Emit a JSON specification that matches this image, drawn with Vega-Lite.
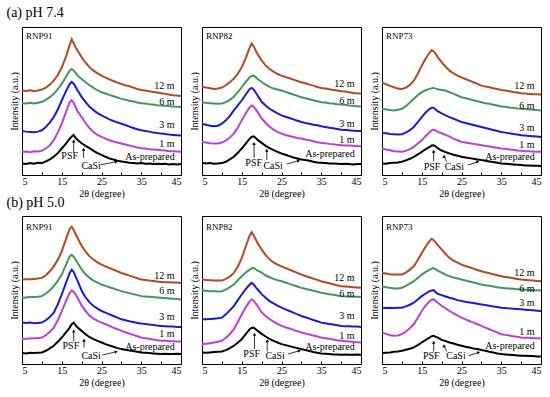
{
"$schema": "https://vega.github.io/schema/vega-lite/v6.json",
"padding": {"left": 5, "top": 5, "right": 2, "bottom": 2},
"config": {"font": "Liberation Serif", "view": {"stroke": "black", "strokeWidth": 1},
  "axis": {"labelFont": "Liberation Serif", "titleFont": "Liberation Serif"},
  "text": {"font": "Liberation Serif"}},
"datasets": {"d": [
{"r":"a","c":"RNP91","x":5,"A":35,"B":70,"C":133,"D":217,"E":255},
{"r":"a","c":"RNP91","x":6,"A":33,"B":71,"C":131,"D":216,"E":254},
{"r":"a","c":"RNP91","x":7,"A":36,"B":69,"C":130,"D":218,"E":256},
{"r":"a","c":"RNP91","x":8,"A":34,"B":72,"C":129,"D":216,"E":253},
{"r":"a","c":"RNP91","x":9,"A":37,"B":71,"C":131,"D":218,"E":255},
{"r":"a","c":"RNP91","x":10,"A":36,"B":73,"C":135,"D":221,"E":258},
{"r":"a","c":"RNP91","x":11,"A":41,"B":80,"C":145,"D":227,"E":264},
{"r":"a","c":"RNP91","x":12,"A":47,"B":90,"C":158,"D":235,"E":273},
{"r":"a","c":"RNP91","x":13,"A":55,"B":105,"C":175,"D":245,"E":285},
{"r":"a","c":"RNP91","x":14,"A":66,"B":128,"C":198,"D":259,"E":302},
{"r":"a","c":"RNP91","x":15,"A":80,"B":155,"C":225,"D":275,"E":325},
{"r":"a","c":"RNP91","x":16,"A":94,"B":188,"C":252,"D":295,"E":355},
{"r":"a","c":"RNP91","x":17,"A":110,"B":220,"C":275,"D":315,"E":393},
{"r":"a","c":"RNP91","x":17.5,"A":116,"B":226,"C":281,"D":320,"E":410},
{"r":"a","c":"RNP91","x":18,"A":121,"B":218,"C":276,"D":316,"E":398},
{"r":"a","c":"RNP91","x":18.5,"A":112,"B":205,"C":266,"D":308,"E":386},
{"r":"a","c":"RNP91","x":19,"A":106,"B":192,"C":255,"D":300,"E":375},
{"r":"a","c":"RNP91","x":20,"A":96,"B":175,"C":236,"D":290,"E":356},
{"r":"a","c":"RNP91","x":21,"A":88,"B":157,"C":220,"D":280,"E":339},
{"r":"a","c":"RNP91","x":22,"A":81,"B":141,"C":206,"D":271,"E":325},
{"r":"a","c":"RNP91","x":23,"A":73,"B":130,"C":196,"D":263,"E":315},
{"r":"a","c":"RNP91","x":24,"A":66,"B":121,"C":187,"D":256,"E":307},
{"r":"a","c":"RNP91","x":25,"A":61,"B":115,"C":180,"D":250,"E":300},
{"r":"a","c":"RNP91","x":26,"A":55,"B":110,"C":174,"D":246,"E":294},
{"r":"a","c":"RNP91","x":27,"A":50,"B":105,"C":168,"D":242,"E":289},
{"r":"a","c":"RNP91","x":28,"A":47,"B":101,"C":163,"D":238,"E":284},
{"r":"a","c":"RNP91","x":29,"A":43,"B":98,"C":159,"D":234,"E":279},
{"r":"a","c":"RNP91","x":30,"A":41,"B":95,"C":155,"D":230,"E":275},
{"r":"a","c":"RNP91","x":31,"A":39,"B":92,"C":151,"D":227,"E":271},
{"r":"a","c":"RNP91","x":32,"A":37,"B":89,"C":146,"D":224,"E":268},
{"r":"a","c":"RNP91","x":33,"A":36,"B":86,"C":142,"D":222,"E":264},
{"r":"a","c":"RNP91","x":34,"A":35,"B":83,"C":138,"D":219,"E":260},
{"r":"a","c":"RNP91","x":35,"A":36,"B":81,"C":135,"D":217,"E":257},
{"r":"a","c":"RNP91","x":36,"A":34,"B":80,"C":133,"D":216,"E":255},
{"r":"a","c":"RNP91","x":37,"A":35,"B":78,"C":131,"D":214,"E":253},
{"r":"a","c":"RNP91","x":38,"A":33,"B":77,"C":128,"D":213,"E":251},
{"r":"a","c":"RNP91","x":39,"A":34,"B":76,"C":127,"D":211,"E":249},
{"r":"a","c":"RNP91","x":40,"A":33,"B":75,"C":125,"D":210,"E":247},
{"r":"a","c":"RNP91","x":41,"A":34,"B":74,"C":124,"D":209,"E":245},
{"r":"a","c":"RNP91","x":42,"A":32,"B":72,"C":122,"D":208,"E":243},
{"r":"a","c":"RNP91","x":43,"A":33,"B":72,"C":121,"D":207,"E":241},
{"r":"a","c":"RNP91","x":44,"A":32,"B":71,"C":120,"D":206,"E":240},
{"r":"a","c":"RNP91","x":45,"A":33,"B":70,"C":119,"D":205,"E":238},
{"r":"a","c":"RNP82","x":5,"A":37,"B":100,"C":155,"D":220,"E":267},
{"r":"a","c":"RNP82","x":6,"A":35,"B":98,"C":152,"D":218,"E":264},
{"r":"a","c":"RNP82","x":7,"A":36,"B":96,"C":149,"D":217,"E":262},
{"r":"a","c":"RNP82","x":8,"A":34,"B":95,"C":147,"D":216,"E":260},
{"r":"a","c":"RNP82","x":9,"A":35,"B":95,"C":149,"D":215,"E":261},
{"r":"a","c":"RNP82","x":10,"A":36,"B":98,"C":155,"D":216,"E":264},
{"r":"a","c":"RNP82","x":11,"A":40,"B":104,"C":165,"D":220,"E":271},
{"r":"a","c":"RNP82","x":12,"A":47,"B":113,"C":178,"D":227,"E":280},
{"r":"a","c":"RNP82","x":13,"A":55,"B":125,"C":195,"D":236,"E":291},
{"r":"a","c":"RNP82","x":14,"A":67,"B":143,"C":210,"D":250,"E":306},
{"r":"a","c":"RNP82","x":15,"A":80,"B":165,"C":225,"D":265,"E":325},
{"r":"a","c":"RNP82","x":16,"A":95,"B":186,"C":243,"D":281,"E":353},
{"r":"a","c":"RNP82","x":17,"A":110,"B":205,"C":260,"D":295,"E":385},
{"r":"a","c":"RNP82","x":17.5,"A":115,"B":210,"C":263,"D":299,"E":397},
{"r":"a","c":"RNP82","x":18,"A":117,"B":206,"C":258,"D":300,"E":388},
{"r":"a","c":"RNP82","x":18.5,"A":112,"B":199,"C":249,"D":296,"E":376},
{"r":"a","c":"RNP82","x":19,"A":106,"B":190,"C":240,"D":290,"E":365},
{"r":"a","c":"RNP82","x":20,"A":97,"B":171,"C":221,"D":281,"E":346},
{"r":"a","c":"RNP82","x":21,"A":88,"B":157,"C":210,"D":273,"E":331},
{"r":"a","c":"RNP82","x":22,"A":81,"B":146,"C":200,"D":266,"E":320},
{"r":"a","c":"RNP82","x":23,"A":75,"B":137,"C":193,"D":261,"E":312},
{"r":"a","c":"RNP82","x":24,"A":70,"B":130,"C":186,"D":258,"E":305},
{"r":"a","c":"RNP82","x":25,"A":65,"B":125,"C":180,"D":255,"E":300},
{"r":"a","c":"RNP82","x":26,"A":61,"B":121,"C":176,"D":251,"E":296},
{"r":"a","c":"RNP82","x":27,"A":57,"B":118,"C":172,"D":247,"E":292},
{"r":"a","c":"RNP82","x":28,"A":53,"B":115,"C":168,"D":243,"E":288},
{"r":"a","c":"RNP82","x":29,"A":50,"B":112,"C":164,"D":239,"E":284},
{"r":"a","c":"RNP82","x":30,"A":47,"B":110,"C":160,"D":235,"E":280},
{"r":"a","c":"RNP82","x":31,"A":45,"B":107,"C":157,"D":232,"E":277},
{"r":"a","c":"RNP82","x":32,"A":43,"B":105,"C":155,"D":229,"E":273},
{"r":"a","c":"RNP82","x":33,"A":40,"B":102,"C":152,"D":226,"E":270},
{"r":"a","c":"RNP82","x":34,"A":38,"B":99,"C":150,"D":223,"E":266},
{"r":"a","c":"RNP82","x":35,"A":37,"B":97,"C":147,"D":220,"E":263},
{"r":"a","c":"RNP82","x":36,"A":36,"B":96,"C":145,"D":219,"E":261},
{"r":"a","c":"RNP82","x":37,"A":35,"B":94,"C":143,"D":217,"E":259},
{"r":"a","c":"RNP82","x":38,"A":35,"B":93,"C":141,"D":216,"E":257},
{"r":"a","c":"RNP82","x":39,"A":34,"B":91,"C":139,"D":214,"E":255},
{"r":"a","c":"RNP82","x":40,"A":33,"B":90,"C":137,"D":213,"E":253},
{"r":"a","c":"RNP82","x":41,"A":34,"B":89,"C":136,"D":212,"E":252},
{"r":"a","c":"RNP82","x":42,"A":33,"B":89,"C":135,"D":210,"E":250},
{"r":"a","c":"RNP82","x":43,"A":32,"B":88,"C":134,"D":209,"E":248},
{"r":"a","c":"RNP82","x":44,"A":33,"B":87,"C":133,"D":208,"E":247},
{"r":"a","c":"RNP82","x":45,"A":33,"B":87,"C":133,"D":207,"E":245},
{"r":"a","c":"RNP73","x":5,"A":35,"B":80,"C":127,"D":200,"E":280},
{"r":"a","c":"RNP73","x":6,"A":34,"B":77,"C":126,"D":198,"E":274},
{"r":"a","c":"RNP73","x":7,"A":36,"B":75,"C":124,"D":196,"E":269},
{"r":"a","c":"RNP73","x":8,"A":37,"B":72,"C":123,"D":195,"E":265},
{"r":"a","c":"RNP73","x":9,"A":38,"B":71,"C":122,"D":197,"E":261},
{"r":"a","c":"RNP73","x":10,"A":40,"B":70,"C":123,"D":200,"E":260},
{"r":"a","c":"RNP73","x":11,"A":44,"B":73,"C":128,"D":208,"E":264},
{"r":"a","c":"RNP73","x":12,"A":49,"B":78,"C":135,"D":219,"E":272},
{"r":"a","c":"RNP73","x":13,"A":55,"B":85,"C":145,"D":230,"E":285},
{"r":"a","c":"RNP73","x":14,"A":62,"B":95,"C":160,"D":241,"E":306},
{"r":"a","c":"RNP73","x":15,"A":70,"B":105,"C":175,"D":250,"E":330},
{"r":"a","c":"RNP73","x":16,"A":78,"B":118,"C":189,"D":256,"E":352},
{"r":"a","c":"RNP73","x":17,"A":85,"B":130,"C":200,"D":260,"E":370},
{"r":"a","c":"RNP73","x":17.5,"A":89,"B":135,"C":203,"D":262,"E":377},
{"r":"a","c":"RNP73","x":18,"A":90,"B":137,"C":203,"D":263,"E":374},
{"r":"a","c":"RNP73","x":18.5,"A":86,"B":134,"C":198,"D":261,"E":366},
{"r":"a","c":"RNP73","x":19,"A":81,"B":130,"C":193,"D":259,"E":356},
{"r":"a","c":"RNP73","x":20,"A":74,"B":126,"C":186,"D":257,"E":341},
{"r":"a","c":"RNP73","x":21,"A":69,"B":121,"C":180,"D":255,"E":327},
{"r":"a","c":"RNP73","x":22,"A":65,"B":116,"C":175,"D":250,"E":315},
{"r":"a","c":"RNP73","x":23,"A":61,"B":110,"C":170,"D":245,"E":307},
{"r":"a","c":"RNP73","x":24,"A":58,"B":105,"C":165,"D":240,"E":300},
{"r":"a","c":"RNP73","x":25,"A":55,"B":100,"C":160,"D":235,"E":295},
{"r":"a","c":"RNP73","x":26,"A":53,"B":98,"C":157,"D":232,"E":290},
{"r":"a","c":"RNP73","x":27,"A":51,"B":96,"C":154,"D":229,"E":285},
{"r":"a","c":"RNP73","x":28,"A":49,"B":94,"C":151,"D":226,"E":280},
{"r":"a","c":"RNP73","x":29,"A":47,"B":92,"C":148,"D":223,"E":275},
{"r":"a","c":"RNP73","x":30,"A":45,"B":90,"C":145,"D":220,"E":270},
{"r":"a","c":"RNP73","x":31,"A":43,"B":88,"C":142,"D":217,"E":267},
{"r":"a","c":"RNP73","x":32,"A":41,"B":86,"C":139,"D":215,"E":265},
{"r":"a","c":"RNP73","x":33,"A":39,"B":84,"C":136,"D":212,"E":262},
{"r":"a","c":"RNP73","x":34,"A":37,"B":82,"C":133,"D":210,"E":260},
{"r":"a","c":"RNP73","x":35,"A":35,"B":80,"C":130,"D":207,"E":257},
{"r":"a","c":"RNP73","x":36,"A":34,"B":79,"C":128,"D":206,"E":255},
{"r":"a","c":"RNP73","x":37,"A":33,"B":77,"C":126,"D":204,"E":253},
{"r":"a","c":"RNP73","x":38,"A":32,"B":76,"C":124,"D":203,"E":251},
{"r":"a","c":"RNP73","x":39,"A":31,"B":74,"C":122,"D":201,"E":249},
{"r":"a","c":"RNP73","x":40,"A":30,"B":73,"C":120,"D":200,"E":247},
{"r":"a","c":"RNP73","x":41,"A":29,"B":72,"C":119,"D":199,"E":246},
{"r":"a","c":"RNP73","x":42,"A":29,"B":72,"C":118,"D":198,"E":245},
{"r":"a","c":"RNP73","x":43,"A":28,"B":71,"C":117,"D":197,"E":244},
{"r":"a","c":"RNP73","x":44,"A":28,"B":70,"C":116,"D":196,"E":244},
{"r":"a","c":"RNP73","x":45,"A":27,"B":70,"C":115,"D":195,"E":243},
{"r":"b","c":"RNP91","x":5,"A":33,"B":75,"C":125,"D":200,"E":255},
{"r":"b","c":"RNP91","x":6,"A":32,"B":76,"C":124,"D":201,"E":256},
{"r":"b","c":"RNP91","x":7,"A":34,"B":77,"C":125,"D":202,"E":256},
{"r":"b","c":"RNP91","x":8,"A":33,"B":78,"C":123,"D":202,"E":257},
{"r":"b","c":"RNP91","x":9,"A":34,"B":78,"C":124,"D":203,"E":258},
{"r":"b","c":"RNP91","x":10,"A":35,"B":80,"C":125,"D":205,"E":260},
{"r":"b","c":"RNP91","x":11,"A":40,"B":87,"C":132,"D":213,"E":268},
{"r":"b","c":"RNP91","x":12,"A":47,"B":97,"C":142,"D":223,"E":280},
{"r":"b","c":"RNP91","x":13,"A":55,"B":110,"C":155,"D":235,"E":295},
{"r":"b","c":"RNP91","x":14,"A":67,"B":132,"C":180,"D":251,"E":315},
{"r":"b","c":"RNP91","x":15,"A":80,"B":160,"C":210,"D":270,"E":340},
{"r":"b","c":"RNP91","x":16,"A":95,"B":188,"C":243,"D":298,"E":375},
{"r":"b","c":"RNP91","x":17,"A":110,"B":215,"C":275,"D":325,"E":408},
{"r":"b","c":"RNP91","x":17.5,"A":120,"B":222,"C":285,"D":330,"E":415},
{"r":"b","c":"RNP91","x":18,"A":125,"B":218,"C":278,"D":324,"E":405},
{"r":"b","c":"RNP91","x":18.5,"A":117,"B":210,"C":264,"D":315,"E":392},
{"r":"b","c":"RNP91","x":19,"A":110,"B":200,"C":250,"D":305,"E":380},
{"r":"b","c":"RNP91","x":20,"A":100,"B":177,"C":222,"D":286,"E":357},
{"r":"b","c":"RNP91","x":21,"A":90,"B":160,"C":201,"D":271,"E":339},
{"r":"b","c":"RNP91","x":22,"A":81,"B":146,"C":186,"D":260,"E":325},
{"r":"b","c":"RNP91","x":23,"A":75,"B":137,"C":175,"D":252,"E":315},
{"r":"b","c":"RNP91","x":24,"A":70,"B":130,"C":167,"D":246,"E":307},
{"r":"b","c":"RNP91","x":25,"A":65,"B":125,"C":160,"D":240,"E":300},
{"r":"b","c":"RNP91","x":26,"A":60,"B":120,"C":155,"D":236,"E":295},
{"r":"b","c":"RNP91","x":27,"A":56,"B":115,"C":150,"D":232,"E":290},
{"r":"b","c":"RNP91","x":28,"A":52,"B":110,"C":145,"D":228,"E":285},
{"r":"b","c":"RNP91","x":29,"A":48,"B":105,"C":140,"D":224,"E":280},
{"r":"b","c":"RNP91","x":30,"A":45,"B":100,"C":135,"D":220,"E":275},
{"r":"b","c":"RNP91","x":31,"A":43,"B":96,"C":132,"D":217,"E":271},
{"r":"b","c":"RNP91","x":32,"A":41,"B":92,"C":129,"D":214,"E":267},
{"r":"b","c":"RNP91","x":33,"A":39,"B":88,"C":127,"D":211,"E":263},
{"r":"b","c":"RNP91","x":34,"A":37,"B":84,"C":124,"D":208,"E":259},
{"r":"b","c":"RNP91","x":35,"A":35,"B":80,"C":122,"D":205,"E":255},
{"r":"b","c":"RNP91","x":36,"A":34,"B":78,"C":121,"D":204,"E":254},
{"r":"b","c":"RNP91","x":37,"A":33,"B":76,"C":119,"D":203,"E":252},
{"r":"b","c":"RNP91","x":38,"A":32,"B":74,"C":118,"D":202,"E":251},
{"r":"b","c":"RNP91","x":39,"A":31,"B":72,"C":116,"D":201,"E":249},
{"r":"b","c":"RNP91","x":40,"A":30,"B":70,"C":115,"D":200,"E":248},
{"r":"b","c":"RNP91","x":41,"A":31,"B":70,"C":114,"D":199,"E":247},
{"r":"b","c":"RNP91","x":42,"A":30,"B":69,"C":113,"D":198,"E":247},
{"r":"b","c":"RNP91","x":43,"A":30,"B":69,"C":113,"D":197,"E":246},
{"r":"b","c":"RNP91","x":44,"A":31,"B":68,"C":112,"D":196,"E":246},
{"r":"b","c":"RNP91","x":45,"A":30,"B":68,"C":112,"D":195,"E":245},
{"r":"b","c":"RNP82","x":5,"A":35,"B":60,"C":135,"D":222,"E":255},
{"r":"b","c":"RNP82","x":6,"A":34,"B":61,"C":135,"D":221,"E":254},
{"r":"b","c":"RNP82","x":7,"A":35,"B":63,"C":136,"D":220,"E":253},
{"r":"b","c":"RNP82","x":8,"A":36,"B":65,"C":137,"D":220,"E":252},
{"r":"b","c":"RNP82","x":9,"A":37,"B":67,"C":138,"D":219,"E":252},
{"r":"b","c":"RNP82","x":10,"A":38,"B":70,"C":140,"D":220,"E":252},
{"r":"b","c":"RNP82","x":11,"A":42,"B":79,"C":150,"D":225,"E":257},
{"r":"b","c":"RNP82","x":12,"A":48,"B":90,"C":162,"D":232,"E":264},
{"r":"b","c":"RNP82","x":13,"A":55,"B":105,"C":175,"D":240,"E":275},
{"r":"b","c":"RNP82","x":14,"A":64,"B":127,"C":193,"D":253,"E":294},
{"r":"b","c":"RNP82","x":15,"A":75,"B":150,"C":210,"D":265,"E":320},
{"r":"b","c":"RNP82","x":16,"A":90,"B":171,"C":226,"D":276,"E":355},
{"r":"b","c":"RNP82","x":17,"A":105,"B":190,"C":240,"D":285,"E":388},
{"r":"b","c":"RNP82","x":17.5,"A":109,"B":195,"C":245,"D":289,"E":398},
{"r":"b","c":"RNP82","x":18,"A":110,"B":191,"C":240,"D":290,"E":388},
{"r":"b","c":"RNP82","x":18.5,"A":105,"B":183,"C":232,"D":286,"E":377},
{"r":"b","c":"RNP82","x":19,"A":100,"B":175,"C":225,"D":282,"E":365},
{"r":"b","c":"RNP82","x":20,"A":91,"B":156,"C":211,"D":276,"E":346},
{"r":"b","c":"RNP82","x":21,"A":83,"B":145,"C":200,"D":268,"E":329},
{"r":"b","c":"RNP82","x":22,"A":76,"B":136,"C":190,"D":262,"E":316},
{"r":"b","c":"RNP82","x":23,"A":70,"B":128,"C":183,"D":257,"E":307},
{"r":"b","c":"RNP82","x":24,"A":65,"B":121,"C":176,"D":253,"E":300},
{"r":"b","c":"RNP82","x":25,"A":60,"B":115,"C":170,"D":250,"E":295},
{"r":"b","c":"RNP82","x":26,"A":57,"B":111,"C":165,"D":246,"E":290},
{"r":"b","c":"RNP82","x":27,"A":54,"B":107,"C":160,"D":242,"E":285},
{"r":"b","c":"RNP82","x":28,"A":51,"B":103,"C":155,"D":238,"E":280},
{"r":"b","c":"RNP82","x":29,"A":48,"B":99,"C":150,"D":234,"E":275},
{"r":"b","c":"RNP82","x":30,"A":45,"B":95,"C":145,"D":230,"E":270},
{"r":"b","c":"RNP82","x":31,"A":42,"B":92,"C":141,"D":227,"E":266},
{"r":"b","c":"RNP82","x":32,"A":39,"B":89,"C":137,"D":224,"E":262},
{"r":"b","c":"RNP82","x":33,"A":36,"B":86,"C":133,"D":221,"E":258},
{"r":"b","c":"RNP82","x":34,"A":34,"B":83,"C":129,"D":218,"E":254},
{"r":"b","c":"RNP82","x":35,"A":32,"B":80,"C":125,"D":215,"E":250},
{"r":"b","c":"RNP82","x":36,"A":31,"B":78,"C":123,"D":213,"E":247},
{"r":"b","c":"RNP82","x":37,"A":30,"B":76,"C":121,"D":211,"E":244},
{"r":"b","c":"RNP82","x":38,"A":29,"B":74,"C":119,"D":209,"E":241},
{"r":"b","c":"RNP82","x":39,"A":29,"B":72,"C":117,"D":207,"E":238},
{"r":"b","c":"RNP82","x":40,"A":28,"B":70,"C":115,"D":205,"E":235},
{"r":"b","c":"RNP82","x":41,"A":29,"B":69,"C":114,"D":204,"E":234},
{"r":"b","c":"RNP82","x":42,"A":28,"B":68,"C":114,"D":204,"E":233},
{"r":"b","c":"RNP82","x":43,"A":28,"B":67,"C":113,"D":203,"E":232},
{"r":"b","c":"RNP82","x":44,"A":29,"B":66,"C":113,"D":203,"E":231},
{"r":"b","c":"RNP82","x":45,"A":28,"B":65,"C":112,"D":202,"E":230},
{"r":"b","c":"RNP73","x":5,"A":33,"B":95,"C":170,"D":235,"E":275},
{"r":"b","c":"RNP73","x":6,"A":34,"B":91,"C":169,"D":232,"E":273},
{"r":"b","c":"RNP73","x":7,"A":35,"B":87,"C":170,"D":230,"E":271},
{"r":"b","c":"RNP73","x":8,"A":37,"B":85,"C":169,"D":228,"E":270},
{"r":"b","c":"RNP73","x":9,"A":38,"B":86,"C":170,"D":228,"E":270},
{"r":"b","c":"RNP73","x":10,"A":40,"B":90,"C":170,"D":230,"E":270},
{"r":"b","c":"RNP73","x":11,"A":43,"B":98,"C":174,"D":236,"E":276},
{"r":"b","c":"RNP73","x":12,"A":46,"B":108,"C":179,"D":243,"E":285},
{"r":"b","c":"RNP73","x":13,"A":50,"B":120,"C":185,"D":250,"E":295},
{"r":"b","c":"RNP73","x":14,"A":57,"B":140,"C":195,"D":260,"E":314},
{"r":"b","c":"RNP73","x":15,"A":65,"B":160,"C":205,"D":270,"E":335},
{"r":"b","c":"RNP73","x":16,"A":73,"B":177,"C":213,"D":278,"E":355},
{"r":"b","c":"RNP73","x":17,"A":80,"B":190,"C":220,"D":285,"E":372},
{"r":"b","c":"RNP73","x":17.5,"A":84,"B":194,"C":222,"D":288,"E":378},
{"r":"b","c":"RNP73","x":18,"A":85,"B":195,"C":223,"D":290,"E":374},
{"r":"b","c":"RNP73","x":18.5,"A":82,"B":190,"C":217,"D":286,"E":367},
{"r":"b","c":"RNP73","x":19,"A":80,"B":185,"C":212,"D":282,"E":360},
{"r":"b","c":"RNP73","x":20,"A":73,"B":176,"C":208,"D":276,"E":346},
{"r":"b","c":"RNP73","x":21,"A":69,"B":168,"C":204,"D":270,"E":332},
{"r":"b","c":"RNP73","x":22,"A":65,"B":160,"C":200,"D":265,"E":320},
{"r":"b","c":"RNP73","x":23,"A":62,"B":153,"C":197,"D":261,"E":312},
{"r":"b","c":"RNP73","x":24,"A":58,"B":146,"C":193,"D":258,"E":306},
{"r":"b","c":"RNP73","x":25,"A":55,"B":140,"C":190,"D":255,"E":300},
{"r":"b","c":"RNP73","x":26,"A":52,"B":135,"C":188,"D":252,"E":296},
{"r":"b","c":"RNP73","x":27,"A":50,"B":130,"C":186,"D":249,"E":292},
{"r":"b","c":"RNP73","x":28,"A":47,"B":125,"C":184,"D":246,"E":288},
{"r":"b","c":"RNP73","x":29,"A":45,"B":120,"C":182,"D":243,"E":284},
{"r":"b","c":"RNP73","x":30,"A":42,"B":115,"C":180,"D":240,"E":280},
{"r":"b","c":"RNP73","x":31,"A":40,"B":110,"C":178,"D":238,"E":277},
{"r":"b","c":"RNP73","x":32,"A":37,"B":105,"C":176,"D":236,"E":274},
{"r":"b","c":"RNP73","x":33,"A":35,"B":100,"C":174,"D":234,"E":271},
{"r":"b","c":"RNP73","x":34,"A":32,"B":95,"C":172,"D":232,"E":268},
{"r":"b","c":"RNP73","x":35,"A":30,"B":90,"C":170,"D":230,"E":265},
{"r":"b","c":"RNP73","x":36,"A":29,"B":88,"C":169,"D":229,"E":263},
{"r":"b","c":"RNP73","x":37,"A":28,"B":86,"C":168,"D":228,"E":261},
{"r":"b","c":"RNP73","x":38,"A":27,"B":84,"C":167,"D":227,"E":259},
{"r":"b","c":"RNP73","x":39,"A":26,"B":82,"C":166,"D":226,"E":257},
{"r":"b","c":"RNP73","x":40,"A":25,"B":80,"C":165,"D":225,"E":255},
{"r":"b","c":"RNP73","x":41,"A":25,"B":79,"C":164,"D":224,"E":254},
{"r":"b","c":"RNP73","x":42,"A":24,"B":79,"C":163,"D":224,"E":253},
{"r":"b","c":"RNP73","x":43,"A":24,"B":78,"C":162,"D":223,"E":252},
{"r":"b","c":"RNP73","x":44,"A":23,"B":78,"C":161,"D":223,"E":251},
{"r":"b","c":"RNP73","x":45,"A":23,"B":77,"C":160,"D":222,"E":250},
{"r":"a","c":"RNP91","k":"l","x":43.4,"y":270,"t":"12 m"},
{"r":"a","c":"RNP91","k":"l","x":43.4,"y":220,"t":"6 m"},
{"r":"a","c":"RNP91","k":"l","x":43.4,"y":150,"t":"3 m"},
{"r":"a","c":"RNP91","k":"l","x":43.4,"y":95,"t":"1 m"},
{"r":"a","c":"RNP91","k":"l","x":43.4,"y":55,"t":"As-prepared"},
{"r":"a","c":"RNP82","k":"l","x":43.4,"y":275,"t":"12 m"},
{"r":"a","c":"RNP82","k":"l","x":43.4,"y":225,"t":"6 m"},
{"r":"a","c":"RNP82","k":"l","x":43.4,"y":155,"t":"3 m"},
{"r":"a","c":"RNP82","k":"l","x":43.4,"y":105,"t":"1 m"},
{"r":"a","c":"RNP82","k":"l","x":43.4,"y":63,"t":"As-prepared"},
{"r":"a","c":"RNP73","k":"l","x":43.4,"y":270,"t":"12 m"},
{"r":"a","c":"RNP73","k":"l","x":43.4,"y":207,"t":"6 m"},
{"r":"a","c":"RNP73","k":"l","x":43.4,"y":142,"t":"3 m"},
{"r":"a","c":"RNP73","k":"l","x":43.4,"y":92,"t":"1 m"},
{"r":"a","c":"RNP73","k":"l","x":43.4,"y":55,"t":"As-prepared"},
{"r":"b","c":"RNP91","k":"l","x":43.4,"y":265,"t":"12 m"},
{"r":"b","c":"RNP91","k":"l","x":43.4,"y":220,"t":"6 m"},
{"r":"b","c":"RNP91","k":"l","x":43.4,"y":142,"t":"3 m"},
{"r":"b","c":"RNP91","k":"l","x":43.4,"y":92,"t":"1 m"},
{"r":"b","c":"RNP91","k":"l","x":43.4,"y":52,"t":"As-prepared"},
{"r":"b","c":"RNP82","k":"l","x":43.4,"y":260,"t":"12 m"},
{"r":"b","c":"RNP82","k":"l","x":43.4,"y":210,"t":"6 m"},
{"r":"b","c":"RNP82","k":"l","x":43.4,"y":145,"t":"3 m"},
{"r":"b","c":"RNP82","k":"l","x":43.4,"y":85,"t":"1 m"},
{"r":"b","c":"RNP82","k":"l","x":43.4,"y":50,"t":"As-prepared"},
{"r":"b","c":"RNP73","k":"l","x":43.4,"y":275,"t":"12 m"},
{"r":"b","c":"RNP73","k":"l","x":43.4,"y":228,"t":"6 m"},
{"r":"b","c":"RNP73","k":"l","x":43.4,"y":185,"t":"3 m"},
{"r":"b","c":"RNP73","k":"l","x":43.4,"y":97,"t":"1 m"},
{"r":"b","c":"RNP73","k":"l","x":43.4,"y":55,"t":"As-prepared"},
{"r":"a","c":"RNP91","k":"p","x":17.0,"y":57,"t":"PSF"},
{"r":"a","c":"RNP91","k":"p","x":22.4,"y":28,"t":"CaSi"},
{"r":"a","c":"RNP82","k":"p","x":18.0,"y":35,"t":"PSF"},
{"r":"a","c":"RNP82","k":"p","x":22.9,"y":27,"t":"CaSi"},
{"r":"a","c":"RNP73","k":"p","x":17.6,"y":25,"t":"PSF"},
{"r":"a","c":"RNP73","k":"p","x":23.2,"y":25,"t":"CaSi"},
{"r":"b","c":"RNP91","k":"p","x":17.3,"y":55,"t":"PSF"},
{"r":"b","c":"RNP91","k":"p","x":22.4,"y":23,"t":"CaSi"},
{"r":"b","c":"RNP82","k":"p","x":17.5,"y":30,"t":"PSF"},
{"r":"b","c":"RNP82","k":"p","x":23.4,"y":23,"t":"CaSi"},
{"r":"b","c":"RNP73","k":"p","x":17.4,"y":23,"t":"PSF"},
{"r":"b","c":"RNP73","k":"p","x":23.6,"y":23,"t":"CaSi"},
{"r":"a","c":"RNP91","k":"a","x":18.0,"y":103,"x2":18.0,"y2":70},
{"r":"a","c":"RNP91","k":"a","x":20.5,"y":78,"x2":20.5,"y2":52},
{"r":"a","c":"RNP91","k":"b","x":28.7,"y":40,"x2":24.8,"y2":31},
{"r":"a","c":"RNP82","k":"a","x":18.1,"y":95,"x2":18.1,"y2":52},
{"r":"a","c":"RNP82","k":"a","x":21.3,"y":75,"x2":21.3,"y2":45},
{"r":"a","c":"RNP82","k":"b","x":29.3,"y":43,"x2":26.3,"y2":33},
{"r":"a","c":"RNP73","k":"a","x":18.0,"y":72,"x2":18.0,"y2":42},
{"r":"a","c":"RNP73","k":"a","x":20.6,"y":57,"x2":21.3,"y2":40},
{"r":"a","c":"RNP73","k":"b","x":29.1,"y":40,"x2":26.6,"y2":30},
{"r":"b","c":"RNP91","k":"a","x":18.0,"y":100,"x2":18.0,"y2":68},
{"r":"b","c":"RNP91","k":"a","x":20.6,"y":72,"x2":20.6,"y2":50},
{"r":"b","c":"RNP91","k":"b","x":28.7,"y":37,"x2":25.2,"y2":27},
{"r":"b","c":"RNP82","k":"a","x":18.2,"y":90,"x2":18.2,"y2":45},
{"r":"b","c":"RNP82","k":"a","x":21.4,"y":70,"x2":21.4,"y2":38},
{"r":"b","c":"RNP82","k":"b","x":29.5,"y":40,"x2":26.6,"y2":30},
{"r":"b","c":"RNP73","k":"a","x":18.0,"y":66,"x2":18.0,"y2":38},
{"r":"b","c":"RNP73","k":"a","x":20.6,"y":55,"x2":21.3,"y2":38},
{"r":"b","c":"RNP73","k":"b","x":29.3,"y":35,"x2":26.8,"y2":25},
{"r":"a","c":"RNP91","k":"n","x":6,"y":420,"t":"RNP91"},
{"r":"a","c":"RNP82","k":"n","x":6,"y":420,"t":"RNP82"},
{"r":"a","c":"RNP73","k":"n","x":6,"y":420,"t":"RNP73"},
{"r":"b","c":"RNP91","k":"n","x":6,"y":414,"t":"RNP91"},
{"r":"b","c":"RNP82","k":"n","x":6,"y":414,"t":"RNP82"},
{"r":"b","c":"RNP73","k":"n","x":6,"y":414,"t":"RNP73"},
{"r":"a","c":"RNP91","k":"t","x":1.1,"y":489,"t":"(a) pH 7.4"},
{"r":"b","c":"RNP91","k":"t","x":1.1,"y":486,"t":"(b) pH 5.0"}
]},
"data": {"name": "d"},
"facet": {
  "row": {"field": "r", "type": "nominal", "title": null, "header": {"labels": false, "title": null}},
  "column": {"field": "c", "type": "nominal", "sort": ["RNP91", "RNP82", "RNP73"], "title": null, "header": {"labels": false, "title": null}}
},
"spacing": {"row": 41, "column": 21},
"bounds": "flush",
"resolve": {"axis": {"x": "independent", "y": "independent"}},
"spec": {
  "width": 159,
  "height": 148,
  "encoding": {
    "x": {"field": "x", "type": "quantitative", "scale": {"domain": [5, 45], "nice": false, "zero": false},
      "axis": {"values": [5, 10, 15, 20, 25, 30, 35, 40, 45], "labelExpr": "datum.value % 10 == 5 ? datum.label : ''", "title": "2θ (degree)", "tickSize": -3, "tickColor": "black", "domain": false, "grid": false, "labelFont": "Liberation Serif", "labelFontSize": 10, "labelColor": "black", "labelPadding": 4, "titleFont": "Liberation Serif", "titleFontSize": 10, "titleFontWeight": "normal", "titleColor": "black", "titlePadding": 2}},
    "y": {"field": "y", "type": "quantitative", "scale": {"domain": [0, 447], "nice": false, "zero": false},
      "axis": {"labels": false, "ticks": false, "domain": false, "grid": false, "title": "Intensity (a.u.)", "titleFont": "Liberation Serif", "titleFontSize": 10, "titleFontWeight": "normal", "titleColor": "black", "titlePadding": 3}}
  },
  "layer": [
    {"transform": [{"filter": "isValid(datum.A)"}, {"fold": ["A", "B", "C", "D", "E"], "as": ["s", "y"]}],
     "mark": {"type": "line", "strokeWidth": 2, "clip": true},
     "encoding": {"color": {"field": "s", "type": "nominal", "legend": null,
       "scale": {"domain": ["A", "B", "C", "D", "E"], "range": ["#000000", "#bb40d4", "#1a1ad6", "#45955f", "#b04a25"]}}}},
    {"transform": [{"filter": "datum.k == 'l'"}],
     "mark": {"type": "text", "align": "right", "baseline": "middle", "fontSize": 10, "color": "black", "font": "Liberation Serif"},
     "encoding": {"text": {"field": "t"}}},
    {"transform": [{"filter": "datum.k == 'p'"}],
     "mark": {"type": "text", "align": "center", "baseline": "middle", "fontSize": 10, "color": "black", "font": "Liberation Serif"},
     "encoding": {"text": {"field": "t"}}},
    {"transform": [{"filter": "datum.k == 'a' || datum.k == 'b'"}],
     "mark": {"type": "rule", "color": "black", "strokeWidth": 0.8},
     "encoding": {"x2": {"field": "x2"}, "y2": {"field": "y2"}}},
    {"transform": [{"filter": "datum.k == 'a'"}],
     "mark": {"type": "point", "shape": "triangle-up", "filled": true, "color": "black", "size": 12, "opacity": 1},
     "encoding": {}},
    {"transform": [{"filter": "datum.k == 'b'"}],
     "mark": {"type": "point", "shape": "triangle-right", "angle": -15, "filled": true, "color": "black", "size": 12, "opacity": 1},
     "encoding": {}},
    {"transform": [{"filter": "datum.k == 'n'"}],
     "mark": {"type": "text", "align": "left", "baseline": "middle", "fontSize": 9, "color": "black", "font": "Liberation Serif"},
     "encoding": {"text": {"field": "t"}}},
    {"transform": [{"filter": "datum.k == 't'"}],
     "mark": {"type": "text", "align": "left", "baseline": "middle", "fontSize": 14, "color": "black", "font": "Liberation Serif"},
     "encoding": {"text": {"field": "t"}}}
  ]
}
}
